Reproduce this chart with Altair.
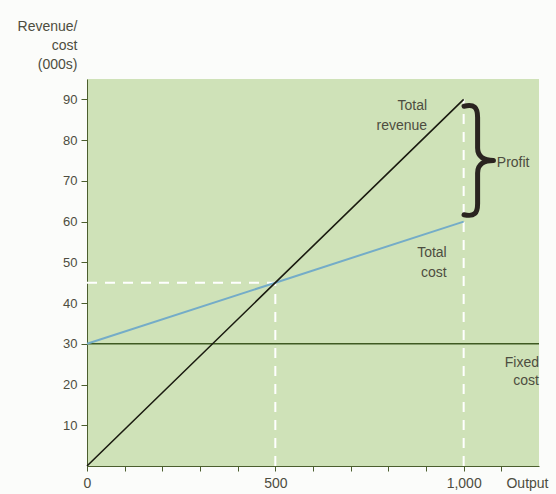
import altair as alt
import pandas as pd

# ---- data ----
output = [0, 500, 1000]
revenue = [0, 45, 90]
total_cost = [30, 45, 60]
fixed_out = [0, 1200]
fixed_cost = [30, 30]
x_ticks = [0, 100, 200, 300, 400, 500, 600, 700, 800, 900, 1000, 1100]
y_ticks = [10, 20, 30, 40, 50, 60, 70, 80, 90]

break_even_out = 500
break_even_val = 45
max_out = 1000
max_rev = 90
max_cost = 60

labels_text = ["Total", "revenue", "Total", "cost", "Fixed", "cost", "Profit"]

FONT = "Liberation Sans Narrow, Liberation Sans, Arial, sans-serif"
TXT = "#4d4d40"
AX = "#4b5e2e"

XS = alt.Scale(domain=[0, 1200], nice=False, zero=False)
YS = alt.Scale(domain=[0, 95], nice=False, zero=False)

rev_df = pd.DataFrame({"out": output, "val": revenue})
cost_df = pd.DataFrame({"out": output, "val": total_cost})
fixed_df = pd.DataFrame({"out": fixed_out, "val": fixed_cost})

x_axis = alt.Axis(
    values=x_ticks,
    labelExpr="datum.value == 0 || datum.value == 500 || datum.value == 1000 ? format(datum.value, ',') : ''",
    grid=False, domainColor=AX, tickColor=AX, tickSize=5, labelColor=TXT,
    labelFont=FONT, labelFontSize=14, labelPadding=5, labelFlush=False,
    title="Output", titleFont=FONT, titleFontSize=14, titleFontWeight="normal",
    titleColor=TXT, titleAnchor="start", titleAlign="center", titleX=440, titleY=10,
    titleBaseline="top",
)
y_axis = alt.Axis(
    values=y_ticks, grid=False, domainColor=AX, tickColor=AX, tickSize=6,
    labelColor=TXT, labelFont=FONT, labelFontSize=13, labelPadding=4,
    title=["Revenue/", "cost", "(000s)"], titleFont=FONT, titleFontSize=14,
    titleFontWeight="normal", titleColor=TXT, titleAngle=0, titleAlign="right",
    titleBaseline="top", titleX=-10, titleY=-60, titleLineHeight=19,
)

base_rev = alt.Chart(rev_df).mark_line(color="#1a1a10", strokeWidth=1.6).encode(
    x=alt.X("out:Q", scale=XS, axis=x_axis),
    y=alt.Y("val:Q", scale=YS, axis=y_axis),
)
cost_line = alt.Chart(cost_df).mark_line(color="#74acc8", strokeWidth=2).encode(
    x=alt.X("out:Q", scale=XS), y=alt.Y("val:Q", scale=YS)
)
fixed_line = alt.Chart(fixed_df).mark_line(color="#3f5a22", strokeWidth=1.4).encode(
    x=alt.X("out:Q", scale=XS), y=alt.Y("val:Q", scale=YS)
)

dash_df = pd.DataFrame({
    "x": [0, break_even_out, max_out],
    "x2": [break_even_out, break_even_out, max_out],
    "y": [break_even_val, 0, 0],
    "y2": [break_even_val, break_even_val, max_rev],
})
dashes = alt.Chart(dash_df).mark_rule(color="white", strokeWidth=2, strokeDash=[10, 8]).encode(
    x=alt.X("x:Q", scale=XS), x2="x2:Q", y=alt.Y("y:Q", scale=YS), y2="y2:Q"
)

lab_df = pd.DataFrame({
    "t": labels_text,
    "x": [903, 903, 955, 955, 1200, 1200, 1088],
    "y": [88.4, 83.5, 52.2, 47.5, 25.4, 20.8, 74.3],
    "al": ["right", "right", "right", "right", "right", "right", "left"],
})
labels_r = alt.Chart(lab_df).transform_filter("datum.al == 'right'").mark_text(
    font=FONT, fontSize=14, color=TXT, baseline="middle", align="right"
).encode(x=alt.X("x:Q", scale=XS), y=alt.Y("y:Q", scale=YS), text="t:N")
labels_l = alt.Chart(lab_df).transform_filter("datum.al == 'left'").mark_text(
    font=FONT, fontSize=14, color=TXT, baseline="middle", align="left"
).encode(x=alt.X("x:Q", scale=XS), y=alt.Y("y:Q", scale=YS), text="t:N")

# curly brace marking the profit gap at maximum output
BRACE = ("M -0.24 -0.96 C -0.06 -1 0 -0.94 0 -0.76 L 0 -0.22 "
         "C 0 -0.06 0.12 0 0.28 0 C 0.12 0 0 0.06 0 0.22 "
         "L 0 0.76 C 0 0.94 -0.06 1 -0.24 0.96")
brace_df = pd.DataFrame({"x": [max_out + 37], "y": [(max_rev + max_cost) / 2]})
brace = alt.Chart(brace_df).mark_point(
    shape=BRACE, size=113 * 113, filled=False, color="#2a2420",
    strokeWidth=5, opacity=1, strokeCap="round", strokeJoin="round",
).encode(x=alt.X("x:Q", scale=XS), y=alt.Y("y:Q", scale=YS))

chart = alt.layer(dashes, fixed_line, cost_line, base_rev, labels_r, labels_l, brace).properties(
    width=452, height=387,
    autosize=alt.AutoSizeParams(type="none"),
    padding={"left": 87, "top": 79, "right": 17, "bottom": 28},
    background="#fbfcfa",
).configure_view(fill="#cfe2b8", stroke=None)

chart.save("out.html", embed_options={"renderer": "svg", "actions": False})
